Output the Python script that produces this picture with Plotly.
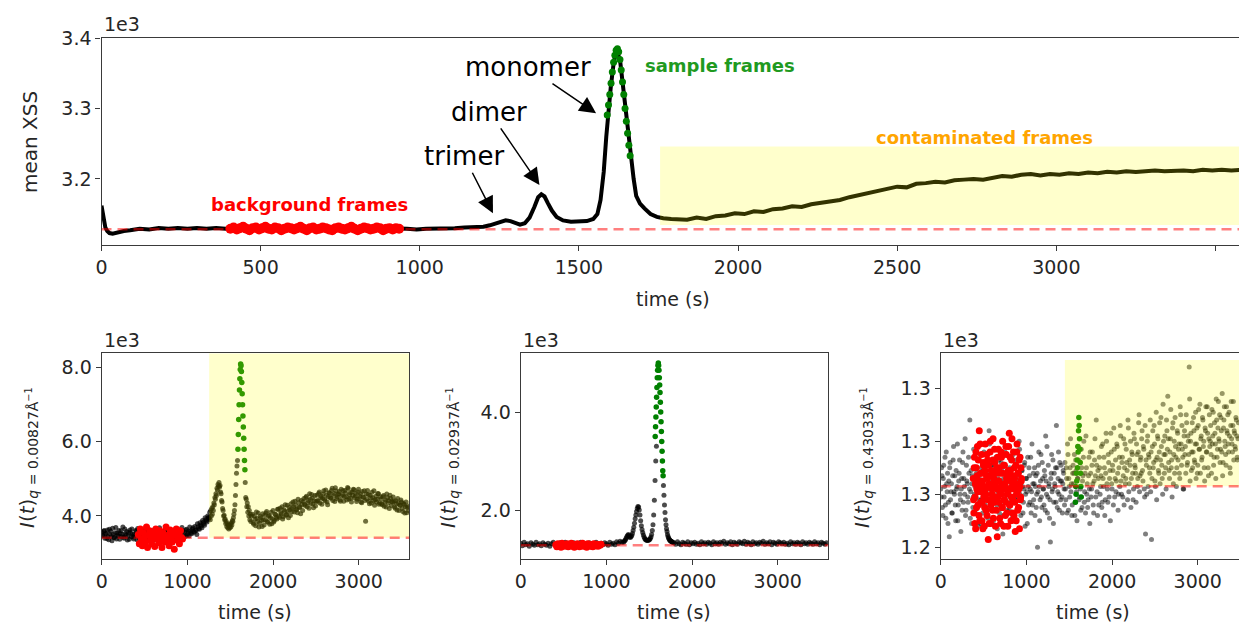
import numpy as np
import plotly.graph_objects as go

# ---------------- DATA (raw units; axes show values / 1e3) ----------------
# top panel: mean XSS, (time s, value)
top_black = [(0,3162),(4,3152),(8,3140),(12,3131),(18,3126),(25,3123),(35,3122),(50,3124),(70,3126),(90,3127),
             (120,3129),(150,3128),(180,3130),(210,3129),(240,3130),(270,3129),(300,3130),(330,3129),(360,3130),(390,3129),
             (420,3130),(480,3129),(540,3130),(600,3129),(660,3130),(720,3129),(780,3130),(840,3129),(900,3130),(960,3129),
             (990,3128),(1020,3129),(1050,3129),(1080,3130),(1110,3130),(1140,3131),(1170,3131),(1200,3132),(1220,3134),(1240,3137),
             (1255,3140),(1270,3141),(1285,3140),(1300,3137),(1315,3135),(1330,3137),(1345,3145),(1360,3160),(1372,3174),(1382,3178),
             (1392,3175),(1402,3166),(1415,3155),(1430,3146),(1450,3141),(1475,3139),(1500,3139),(1525,3140),(1545,3143),(1558,3150),
             (1568,3170),(1578,3210),(1586,3260),(1592,3295),(1600,3330),(1610,3368),(1620,3383),(1630,3366),(1640,3325),(1650,3280),
             (1658,3250),(1665,3228),(1672,3200),(1680,3176),(1692,3165),(1706,3158),(1725,3150),(1745,3146),(1765,3144),(1790,3143),
             (1815,3142),(1840,3142),(1870,3145),(1900,3143),(1930,3147),(1960,3148),(1990,3151),(2020,3150),(2050,3154),(2080,3153),
             (2110,3157),(2140,3158),(2170,3161),(2200,3160),(2230,3164),(2260,3166),(2290,3168),(2320,3170),(2350,3174),(2380,3177),
             (2410,3180),(2440,3182),(2470,3186),(2500,3189),(2530,3188),(2560,3193),(2590,3194),(2620,3196),(2650,3195),(2680,3198),
             (2710,3199),(2740,3200),(2770,3199),(2800,3202),(2830,3204),(2860,3203),(2890,3206),(2920,3207),(2950,3205),(2980,3207),
             (3010,3206),(3040,3208),(3070,3207),(3100,3209),(3130,3208),(3160,3210),(3190,3209),(3220,3211),(3250,3210),(3280,3211),
             (3310,3212),(3340,3211),(3370,3212),(3400,3212),(3430,3211),(3460,3213),(3490,3212),(3520,3213),(3550,3212),(3580,3213)]
top_red_start, top_red_step = 405, 10
top_red = [3129,3131,3128,3130,3132,3129,3127,3130,3131,3128,3130,3132,3129,3128,3131,3130,3127,3129,3131,3130,
           3128,3130,3132,3129,3127,3130,3131,3128,3129,3131,3130,3128,3127,3130,3131,3129,3128,3130,3132,3129,
           3127,3129,3131,3130,3128,3129,3131,3130,3127,3129,3130,3128,3130,3129]
top_green = [(1589,3291),(1593,3305),(1597,3320),(1601,3336),(1605,3352),(1609,3366),(1613,3376),(1617,3383),(1621,3385),
             (1625,3381),(1629,3370),(1633,3355),(1637,3338),(1641,3320),(1645,3300),(1649,3282),(1653,3265),(1657,3248),(1661,3233)]
top_baseline = 3128.4
top_contam = (1755, 3134.6, 3246)   # t start, y low, y high

# panel 1: I(t) at q = 0.00827
p1_black1_start, p1_black1_step = 0, 15
p1_black1 = [3560,3470,3610,3520,3390,3450,3640,3580,3330,3500,3420,3690,3540,3460,3370,3600,3510,3430,3650,3480,
             3350,3560,3620,3440,3510,3380,3470,3590,3660,3410,3520,3450,3340,3580,3500,3630,3460,3390,3550,3480,
             3610,3420,3360,3530,3470,3680,3500,3440,3570,3400,3490,3620,3350,3540,3460,3590,3430,3510,3660,3380,
             3480,3560,3420,3600,3500,3450,3640,3530,3470,3590,3520,3680,3560,3620,3500,3710,3640,3760,3680,3830,
             3750,3900,3840,3960]
p1_black1b_start, p1_black1b_step = 7, 15
p1_black1b = [3480,3590,3400,3530,3620,3360,3510,3450,3670,3420,3550,3380,3490,3610,3530,3440,3700,3400,3520,3580,
              3460,3370,3540,3650,3430,3500,3610,3360,3480,3560,3410,3630,3520,3450,3390,3570,3490,3600,3420,3530,
              3380,3510,3640,3460,3550,3400,3580,3470,3350,3620,3530,3440,3560,3390,3600,3480,3520,3410,3570,3630,
              3450,3510,3690,3400,3560,3620,3480,3590,3700,3550,3640,3580,3720,3610,3790,3660,3820,3730,3880,3790,
              3950,3870,4000,3930]
p1_red_start, p1_red_step = 427, 12
p1_red = [3500,3250,3650,3380,3200,3550,3420,3300,3700,3150,3480,3600,3350,3250,3550,3420,3180,3650,3380,3500,
          3280,3600,3400,3150,3550,3450,3300,3700,3350,3480,3200,3620,3420,3300,3550,3100,3480,3650,3350,3500,
          3250,3600,3420,3380]
p1_black2_start, p1_black2_step = 1255, 6
p1_black2 = [3950,4100,3900,4150,4000,4200,4050,4250,4150,4350,4300,4500,4450,4600,4550,4750,4700,4850,4800,4900,
             4780,4820,4650,4600,4420,4380,4200,4150,4000,4020,3900,3920,3800,3850,3720,3800,3680,3760,3650,3750,
             3680,3780,3700,3820,3760,3880,3850,3950,4050,4150,4300,4550,4850,5150,5350,5500]
p1_green_start, p1_green_step = 1590, 4.5
p1_green = [5800,6200,6600,7000,7400,7700,7950,8100,8050,7900,7600,7300,7000,6700,6400,6100,5800,5500,5250]
p1_black3_start, p1_black3_step = 1675, 6
p1_black3 = [4900,4500,4450,4250,4350,4100,4250,4000,4150,3900,4050,3850,4000]
p1_black4_start, p1_black4_step = 1760, 15
p1_black4 = [4050,3780,3920,4110,3850,3700,3990,3880,4060,3760,3900,4120,3830,4010,3950,3790,4150,3880,4040,3920,
             4180,3960,4090,4250,3980,4130,4020,4290,3950,4160,4330,4120,4250,4400,4180,4090,4360,4240,4420,4150,
             4470,4280,4530,4360,4210,4450,4580,4330,4410,4270,4560,4400,4650,4490,4320,4590,4450,4700,4380,4520,
             4620,4480,4750,4550,4390,4680,4510,4600,4430,4720,4580,4400,4690,4520,4770,4460,4630,4380,4560,4710,
             4540,4390,4650,4470,4600,4360,4520,4680,3860,4450,4580,4330,4490,4640,4410,4290,4530,4450,4600,4350,
             4460,4300,4550,4380,4240,4490,4410,4560,4280,4370,4400,4210,4330,4470,4150,4290,4380,4120,4310,4240,
             4090,4270]
p1_black4b_start, p1_black4b_step = 1767, 15
p1_black4b = [3820,4000,3740,3930,4080,3810,3950,3720,3890,4020,4080,3850,3990,3780,4100,3920,3840,4050,3960,4180,
              3990,4210,4060,3920,4170,4300,4040,4120,4230,4010,4200,4380,4110,4290,4170,4450,4230,4060,4310,4390,
              4320,4500,4250,4420,4600,4340,4480,4220,4550,4390,4420,4610,4350,4530,4470,4680,4410,4560,4300,4630,
              4500,4690,4420,4610,4760,4470,4580,4660,4400,4540,4690,4510,4620,4430,4740,4570,4480,4650,4720,4490,
              4610,4450,4720,4530,4380,4660,4500,4420,4590,4690,4400,4560,4350,4500,4680,4440,4380,4610,4320,4520,
              4330,4520,4260,4430,4590,4350,4200,4470,4390,4510,4250,4410,4160,4350,4290,4430,4200,4340,4080,4380,
              4230,4150]
p1_baseline = 3410
p1_contam = (1254, 3410, 8388)

# panel 2: I(t) at q = 0.02937
p2_black1_start, p2_black1_step = 0, 20
p2_black1 = [1320,1270,1340,1290,1310,1260,1330,1300,1280,1340,1290,1310,1270,1330,1300,1280,1320,1260,1310,1340,
             1290,1300,1270,1330,1310,1280,1340,1290,1260,1320,1300,1330,1280,1310,1270,1340,1290,1320,1300,1260,
             1330,1290,1310,1280,1340,1300,1270,1320,1290,1330,1310,1280,1340,1300,1320,1290,1350,1320,1360,1340]
p2_red_start, p2_red_step = 410, 12
p2_red = [1290,1250,1310,1270,1300,1240,1320,1280,1260,1300,1270,1310,1250,1290,1280,1320,1260,1300,1240,1290,
          1270,1310,1280,1250,1300,1270,1320,1260,1290,1280,1240,1310,1270,1300,1260,1290,1250,1310,1280,1270,
          1300,1260,1290,1280,1300]
p2_black2_start, p2_black2_step = 1200, 8
p2_black2 = [1340,1360,1380,1400,1430,1460,1480,1500,1480,1450,1440,1460,1480,1520,1580,1650,1730,1820,1900,1970,
             2030,2070,2060,2000,1900,1780,1680,1600,1540,1490,1450,1420,1400,1390,1385,1380,1385,1390,1400,1420,
             1450,1500,1580,1700,1900,2200,2600,3000,3300]
p2_green_start, p2_green_step = 1570, 4
p2_green = [3500,3700,3900,4100,4300,4500,4700,4850,4950,5000,4950,4850,4700,4550,4400,4200,4000,3800,3600,3400,
            3200,3000,2800,2700]
p2_black3_start, p2_black3_step = 1666, 6
p2_black3 = [2500,2300,2100,1950,1800,1700,1620,1560,1500,1460,1430,1410,1390,1380,1370,1360,1350,1345,1340]
p2_black4_start, p2_black4_step = 1790, 20
p2_black4 = [1330,1300,1350,1310,1290,1340,1320,1300,1350,1290,1330,1310,1340,1300,1320,1290,1350,1310,1330,1300,
             1340,1320,1290,1350,1310,1330,1300,1340,1320,1360,1300,1330,1310,1350,1290,1340,1320,1300,1350,1330,
             1310,1360,1300,1340,1320,1290,1350,1310,1330,1300,1340,1320,1360,1300,1330,1310,1350,1290,1340,1320,
             1300,1350,1330,1310,1340,1300,1320,1290,1350,1310,1330,1300,1340,1320,1290,1350,1310,1330,1300,1340,
             1320,1300,1350,1310,1330,1290,1340,1320,1300,1330]
p2_baseline = 1280

# panel 3: I(t) at q = 0.43033
p3_black1_start, p3_black1_step = 0, 10
p3_black1 = [1262,1270,1255,1266,1259,1274,1251,1264,1268,1257,1244,1272,1261,1253,1267,1278,1260,1256,1269,1263,
             1250,1265,1273,1258,1262,1254,1276,1266,1260,1252,1271,1264,1257,1268,1288,1261,1249,1267,1259,1274,
             1263,1255,1270,1262,1248,1266,1275,1258,1264,1253,1269,1261,1256,1272,1263,1251,1267,1279,1260,1257,
             1265,1271,1254,1262,1268,1259,1247,1266,1273,1261,1256,1264,1270,1252,1263,1276,1258,1265,1260,1269,
             1254,1262,1274,1257,1266,1250,1263,1271,1259,1267,1261,1255,1277,1264,1258,1269,1253,1262,1272,1260,
             1266,1249,1263,1270,1257,1274,1261,1256,1268,1264,1252,1267,1260,1240,1271,1263,1258,1275,1255,1266,
             1262,1269,1254,1265,1278,1259,1263,1251,1242,1268,1261,1273,1257,1264,1270,1286,1255,1266,1260,1272,
             1258,1265,1253,1269,1262]
p3_black1b_start, p3_black1b_step = 5, 10
p3_black1b = [1259,1267,1252,1271,1263,1256,1276,1261,1249,1265,1270,1258,1264,1253,1273,1261,1267,1250,1262,1279,
              1256,1268,1260,1246,1266,1272,1257,1263,1281,1254,1265,1259,1274,1262,1251,1269,1264,1255,1277,1260,
              1253,1268,1262,1273,1258,1265,1249,1270,1256,1263,1276,1259,1266,1252,1268,1262,1284,1255,1264,1271,
              1258,1250,1267,1263,1274,1256,1261,1269,1253,1265,1272,1260,1245,1266,1259,1278,1263,1254,1268,1261,
              1270,1257,1264,1251,1275,1262,1267,1258,1273,1255,1265,1280,1260,1252,1269,1263,1257,1271,1248,1266,
              1261,1274,1256,1267,1262,1253,1279,1264,1258,1270,1263,1255,1268,1261,1276,1250,1265,1259,1272,1262,
              1256,1267,1282,1260,1253,1271,1264,1258,1266,1275,1262,1249,1268,1263,1257,1270,1261,1276,1254,1265,
              1271,1259,1264,1268,1256]
p3_red_start, p3_red_step = 380, 7
p3_red = [1266,1253,1274,1259,1247,1270,1262,1278,1256,1265,1284,1250,1268,1261,1275,1257,1247,1271,1263,1255,
          1279,1260,1267,1252,1273,1243,1264,1258,1276,1249,1269,1262,1254,1281,1266,1257,1272,1248,1263,1270,
          1244,1259,1277,1265,1251,1268,1260,1274,1255,1280,1262,1248,1271,1264,1257,1275,1253,1267,1261,1278,
          1283,1256,1269,1250,1273,1263,1258,1276,1252,1266,1246,1271,1260,1279,1254,1268,1262,1247,1274,1259,
          1265]
p3_red_b_start, p3_red_b_step = 383.5, 7
p3_red_b = [1258,1270,1249,1264,1276,1255,1267,1261,1273,1252,1263,1279,1257,1268,1250,1265,1272,1259,1248,1269,
            1262,1254,1275,1266,1258,1271,1249,1263,1280,1256,1267,1260,1273,1251,1264,1277,1259,1268,1254,1262,
            1274,1265,1257,1270,1261,1249,1276,1263,1255,1268,1271,1258,1264,1252,1278,1266,1260,1248,1269,1262,
            1256,1274,1265,1259,1281,1253,1267,1262,1270,1257,1264,1250,1276,1261,1268,1255,1273,1263,1258,1270,
            1266]
p3_green_start, p3_green_step = 1572, 4
p3_green = [1257,1263,1260,1268,1265,1273,1270,1278,1276,1284,1289,1286,1281,1277,1272,1268,1263,1259]
p3_black2_start, p3_black2_step = 1450, 10
p3_black2 = [1272,1258,1266,1279,1254,1263,1270,1261,1252,1268,1264,1275,1257,1269,1250,1266,1273,1259,1262,1277,
             1255,1267,1280,1261,1253,1270,1264,1258,1274,1249,1268,1262,1276,1256,1265,1281,1259,1271,1252,1266,
             1274,1260,1267,1255,1279,1263,1270,1258,1283,1264,1257,1272,1266,1250,1276,1262,1269,1285,1259,1273,
             1265,1278,1254,1270,1263,1282,1260,1274,1267,1256,1279,1266,1272,1258,1285,1264,1271,1255,1276,1268,
             1262,1281,1270,1257,1275,1266,1287,1261,1273,1268,1284,1265,1277,1259,1245,1271,1280,1263,1274,1268,
             1261,1243,1278,1270,1286,1265,1273,1258,1282,1269,1276,1264,1289,1271,1260,1280,1268,1275,1262,1284,
             1297,1272,1266,1281,1270,1259,1287,1275,1268,1278,1263,1284,1273,1279,1266,1290,1271,1277,1262,1282,
             1275,1268,1287,1272,1280,1308,1265,1283,1276,1270,1289,1273,1279,1266,1285,1271,1292,1277,1268,1282,
             1274,1288,1280,1265,1284,1276,1293,1270,1281,1278,1286,1268,1279,1291,1274,1283,1266,1288,1277,1295,
             1280,1272,1289,1276,1267,1285,1293,1278,1271,1284,1290,1276,1282,1268,1295,1279,1286,1273,1283,1277,
             1288,1274,1281]
p3_black2b_start, p3_black2b_step = 1455, 10
p3_black2b = [1262,1270,1253,1275,1266,1259,1281,1264,1256,1271,1268,1252,1273,1261,1266,1278,1258,1263,1254,1270,
              1265,1274,1257,1268,1282,1260,1255,1267,1262,1276,1259,1271,1264,1253,1273,1267,1288,1261,1269,1256,
              1270,1263,1278,1257,1266,1274,1252,1268,1280,1262,1275,1259,1269,1283,1264,1271,1256,1277,1266,1261,
              1279,1268,1260,1274,1286,1265,1272,1259,1281,1270,1264,1277,1269,1288,1261,1273,1280,1266,1275,1258,
              1283,1271,1268,1279,1263,1276,1290,1267,1274,1281,1269,1278,1262,1286,1273,1260,1282,1275,1270,1288,
              1276,1266,1284,1272,1279,1263,1291,1274,1281,1268,1287,1273,1278,1266,1294,1275,1282,1270,1288,1277,
              1281,1269,1276,1292,1273,1285,1264,1280,1289,1274,1270,1283,1277,1268,1293,1279,1286,1274,1262,1284,
              1278,1290,1271,1282,1275,1296,1280,1269,1287,1276,1284,1272,1291,1279,1268,1286,1277,1294,1281,1273,
              1289,1278,1270,1285,1293,1276,1283,1267,1290,1280,1275,1292,1282,1271,1287,1279,1296,1274,1285,1281,
              1290,1277,1284,1298,1272,1288,1280,1275,1293,1283,1279,1291,1270,1286,1281,1276,1295,1284,1278,1289,
              1282,1273,1287]
p3_baseline = 1263.1
p3_contam = (1449, 1263.1, 1310.7)

x_ticks_top = [0, 500, 1000, 1500, 2000, 2500, 3000, 3500]
x_ticks_bot = [0, 1000, 2000, 3000]
y_ticks_top = [3.2, 3.3, 3.4]
y_ticks_p1 = [4.0, 6.0, 8.0]
y_ticks_p2 = [2.0, 4.0]
y_ticks_p3 = [1.24, 1.26, 1.28, 1.30]

# ---------------- FIGURE ----------------
W, H = 1239, 624
def fx(p): return p / W
def fy(p): return 1 - p / H

def seq(start, step, vals):
    return start + step * np.arange(len(vals)), np.asarray(vals, float) / 1000.0

FONT = "DejaVu Sans"
TXT = "#262626"
AX = "#3a3a3a"

fig = go.Figure()
def add(x, y, xa, ya, **kw):
    fig.add_trace(go.Scatter(x=x, y=y, xaxis=xa, yaxis=ya, showlegend=False, hoverinfo="skip", **kw))

BLK = dict(size=5, color="rgba(0,0,0,0.5)", line=dict(width=0))
BLK1 = dict(size=5, color="rgba(0,0,0,0.7)", line=dict(width=0))
RED = dict(size=7, color="#ff0000", line=dict(width=0))
GRN = dict(size=5.5, color="#008000", line=dict(width=0))

# top
tb = np.array(top_black, float)
add(tb[:, 0], tb[:, 1] / 1000, "x", "y", mode="lines", line=dict(color="black", width=4))
t, v = seq(top_red_start, top_red_step, top_red)
add(t, v, "x", "y", mode="markers", marker=dict(size=10, color="#ff0000", line=dict(width=0)))
tg = np.array(top_green, float)
add(tg[:, 0], tg[:, 1] / 1000, "x", "y", mode="markers", marker=dict(size=7, color="#008000", line=dict(width=0)))

# panel 1
for s, st, vals, mk in [(p1_black1_start, p1_black1_step, p1_black1, BLK1),
                        (p1_black1b_start, p1_black1b_step, p1_black1b, BLK1),
                        (p1_red_start, p1_red_step, p1_red, RED),
                        (p1_black2_start, p1_black2_step, p1_black2, BLK1),
                        (p1_green_start, p1_green_step, p1_green, GRN),
                        (p1_black3_start, p1_black3_step, p1_black3, BLK1),
                        (p1_black4_start, p1_black4_step, p1_black4, BLK1),
                        (p1_black4b_start, p1_black4b_step, p1_black4b, BLK1)]:
    t, v = seq(s, st, vals)
    add(t, v, "x2", "y2", mode="markers", marker=mk)

# panel 2
for s, st, vals, mk in [(p2_black1_start, p2_black1_step, p2_black1, BLK1),
                        (p2_red_start, p2_red_step, p2_red, RED),
                        (p2_black2_start, p2_black2_step, p2_black2, BLK1),
                        (p2_green_start, p2_green_step, p2_green, GRN),
                        (p2_black3_start, p2_black3_step, p2_black3, BLK1),
                        (p2_black4_start, p2_black4_step, p2_black4, BLK1)]:
    t, v = seq(s, st, vals)
    add(t, v, "x3", "y3", mode="markers", marker=mk)

# panel 3
for s, st, vals, mk in [(p3_black1_start, p3_black1_step, p3_black1, BLK),
                        (p3_black1b_start, p3_black1b_step, p3_black1b, BLK),
                        (p3_red_start, p3_red_step, p3_red, RED),
                        (p3_red_b_start, p3_red_b_step, p3_red_b, RED),
                        (p3_black2_start, p3_black2_step, p3_black2, BLK),
                        (p3_black2b_start, p3_black2b_step, p3_black2b, BLK),
                        (p3_green_start, p3_green_step, p3_green, GRN)]:
    t, v = seq(s, st, vals)
    add(t, v, "x4", "y4", mode="markers", marker=mk)

XR_TOP = [0, 3574]
XR_P = [0, 3590]
XR_P3 = [0, 3481]
YR_TOP = [3.106, 3.4]
YR_P1 = [2.832, 8.388]
YR_P2 = [0.994, 5.198]
YR_P3 = [1.2355, 1.3132]

def axis(domain, rng, anchor, ticks, text, mirror=True):
    return dict(domain=domain, range=rng, anchor=anchor, showgrid=False, zeroline=False, automargin=False,
                showline=True, linecolor=AX, linewidth=1.3, mirror=mirror,
                ticks="outside", ticklen=5, tickwidth=1.3, tickcolor=AX,
                tickvals=ticks, ticktext=text,
                tickfont=dict(family=FONT, size=19, color=TXT))

ydom_top = [fy(245), fy(38.3)]
ydom_bot = [fy(559.3), fy(353.3)]
xt_top = [str(k) for k in x_ticks_top]
xt_bot = [str(k) for k in x_ticks_bot]
fig.update_layout(
    width=W, height=H, margin=dict(l=0, r=0, t=0, b=0, autoexpand=False),
    paper_bgcolor="white", plot_bgcolor="white",
    xaxis=axis([fx(101.5), 1.0], XR_TOP, "y", x_ticks_top, xt_top),
    yaxis=axis(ydom_top, YR_TOP, "x", y_ticks_top, ["%.1f" % k for k in y_ticks_top], mirror=False),
    xaxis2=axis([fx(101.7), fx(409.3)], XR_P, "y2", x_ticks_bot, xt_bot),
    yaxis2=axis(ydom_bot, YR_P1, "x2", y_ticks_p1, ["%.1f" % k for k in y_ticks_p1]),
    xaxis3=axis([fx(520.7), fx(828.3)], XR_P, "y3", x_ticks_bot, xt_bot),
    yaxis3=axis(ydom_bot, YR_P2, "x3", y_ticks_p2, ["%.1f" % k for k in y_ticks_p2]),
    xaxis4=axis([fx(940.7), 1.0], XR_P3, "y4", x_ticks_bot, xt_bot),
    yaxis4=axis(ydom_bot, YR_P3, "x4", y_ticks_p3, ["%.1f" % k for k in y_ticks_p3], mirror=False),
)

YEL = "rgba(255,255,0,0.2)"
DASH = dict(color="rgba(255,0,0,0.5)", width=2.5, dash="10px,6px")
shapes = [
    dict(type="rect", xref="x", yref="y", x0=top_contam[0], x1=XR_TOP[1], y0=top_contam[1] / 1000, y1=top_contam[2] / 1000,
         fillcolor=YEL, line=dict(width=0), layer="above"),
    dict(type="rect", xref="x2", yref="y2", x0=p1_contam[0], x1=XR_P[1], y0=p1_contam[1] / 1000, y1=p1_contam[2] / 1000,
         fillcolor=YEL, line=dict(width=0), layer="above"),
    dict(type="rect", xref="x4", yref="y4", x0=p3_contam[0], x1=XR_P3[1], y0=p3_contam[1] / 1000, y1=p3_contam[2] / 1000,
         fillcolor=YEL, line=dict(width=0), layer="above"),
    dict(type="line", xref="x", yref="y", x0=0, x1=XR_TOP[1], y0=top_baseline / 1000, y1=top_baseline / 1000, line=DASH, layer="above"),
    dict(type="line", xref="x2", yref="y2", x0=0, x1=XR_P[1], y0=p1_baseline / 1000, y1=p1_baseline / 1000, line=DASH, layer="above"),
    dict(type="line", xref="x3", yref="y3", x0=0, x1=XR_P[1], y0=p2_baseline / 1000, y1=p2_baseline / 1000, line=DASH, layer="above"),
    dict(type="line", xref="x4", yref="y4", x0=0, x1=XR_P3[1], y0=p3_baseline / 1000, y1=p3_baseline / 1000, line=DASH, layer="above"),
]
fig.update_layout(shapes=shapes)

ann = []
def txt(x, y, s, size=19, color=TXT, xanchor="center", angle=0, bold=False):
    ann.append(dict(x=fx(x), y=fy(y), xref="paper", yref="paper", text=("<b>%s</b>" % s) if bold else s,
                    showarrow=False, xanchor=xanchor, yanchor="middle", textangle=angle,
                    font=dict(family=FONT, size=size, color=color)))

# offset texts
txt(101.5, 24, "1e3", xanchor="left")
txt(101.7, 340, "1e3", xanchor="left")
txt(520.7, 340, "1e3", xanchor="left")
txt(940.7, 340, "1e3", xanchor="left")
# axis titles
txt(673, 299, "time (s)")
txt(255, 612, "time (s)")
txt(674, 612, "time (s)")
txt(1093, 612, "time (s)")
txt(30, 142, "mean XSS", size=20, angle=-90)
txt(28, 458, "<i>I</i>(<i>t</i>)<sub><i>q</i> = 0.00827Å<sup>−1</sup></sub>", size=20, angle=-90)
txt(449, 458, "<i>I</i>(<i>t</i>)<sub><i>q</i> = 0.02937Å<sup>−1</sup></sub>", size=20, angle=-90)
txt(863, 458, "<i>I</i>(<i>t</i>)<sub><i>q</i> = 0.43033Å<sup>−1</sup></sub>", size=20, angle=-90)
# region labels
txt(309, 205, "background frames", size=18, color="#ff0000", bold=True)
txt(720, 66, "sample frames", size=18, color="#1f9a1f", bold=True)
txt(984, 137, "contaminated frames", size=18, color="#ffa500", bold=True)

# peak arrows
for label, tx, ty, ax, ay in [("monomer", 1554, 3.2935, -68, -46),
                              ("dimer", 1376, 3.1915, -50, -73),
                              ("trimer", 1230, 3.1512, -29, -57)]:
    ann.append(dict(x=tx, y=ty, xref="x", yref="y", text=label, showarrow=True, ax=ax, ay=ay,
                    axref="pixel", ayref="pixel", arrowhead=2, arrowsize=2.2, arrowwidth=1.5,
                    arrowcolor="black", font=dict(family=FONT, size=26, color="black")))

fig.update_layout(annotations=ann)
fig.write_html("out.html")
